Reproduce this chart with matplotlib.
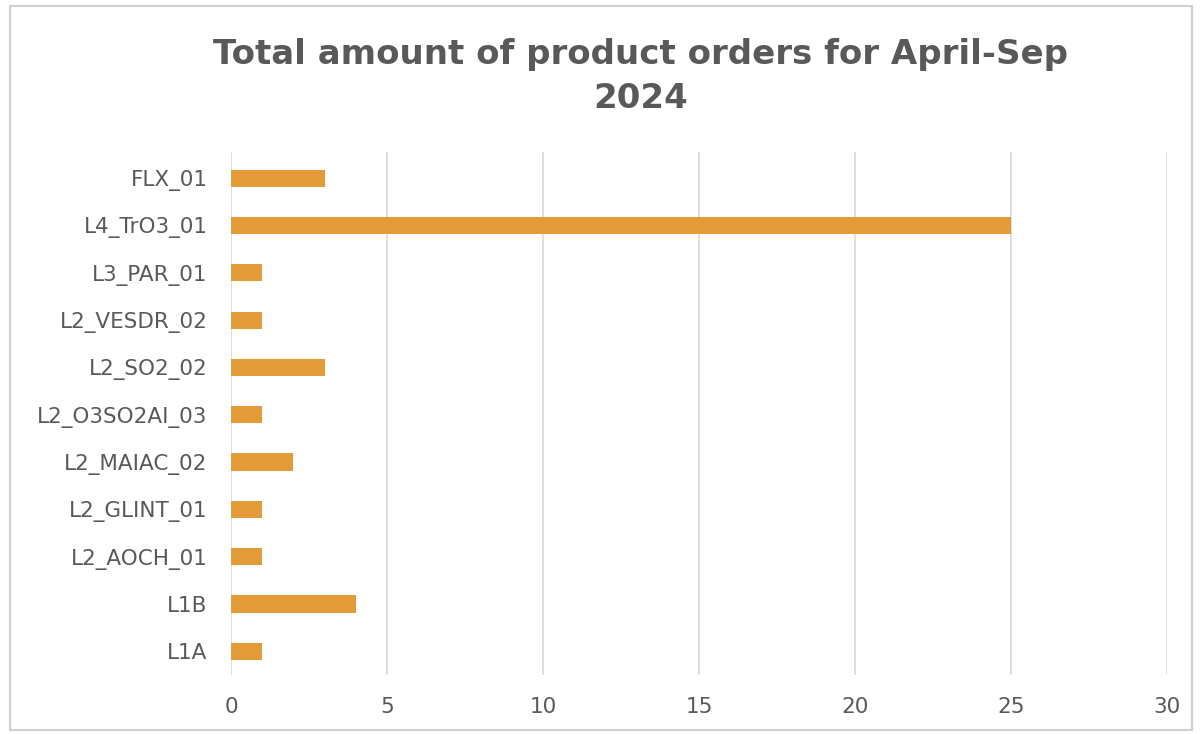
import matplotlib
matplotlib.use("Agg")
import matplotlib.pyplot as plt
from matplotlib.patches import Rectangle

# product codes, listed top to bottom as they appear on the chart
products = ['FLX_01', 'L4_TrO3_01', 'L3_PAR_01', 'L2_VESDR_02', 'L2_SO2_02',
            'L2_O3SO2AI_03', 'L2_MAIAC_02', 'L2_GLINT_01', 'L2_AOCH_01',
            'L1B', 'L1A']
orders = [3, 25, 1, 1, 3, 1, 2, 1, 1, 4, 1]
xticks = [0, 5, 10, 15, 20, 25, 30]

bar_color = '#E39B3A'
text_color = '#595959'
grid_color = '#D9D9D9'

plt.rcParams['font.family'] = ['DejaVu Sans']

fig = plt.figure(figsize=(12.01, 7.34), dpi=100)
ax = fig.add_axes([231 / 1201, 59 / 734, 936 / 1201, 523 / 734])

ypos = list(range(len(products)))
ax.barh(ypos, orders, height=0.36, color=bar_color, zorder=3)

ax.set_xlim(0, 30)
ax.set_ylim(len(products) - 0.5, -0.55)
ax.set_xticks(xticks)
ax.set_yticks(ypos)
ax.set_yticklabels(products)

ax.grid(axis='x', color=grid_color, linewidth=1.2, zorder=0)
for s in ax.spines.values():
    s.set_visible(False)
ax.tick_params(axis='both', length=0, colors=text_color, labelsize=15.5)
ax.tick_params(axis='y', pad=17)
ax.tick_params(axis='x', pad=16)

fig.text(0.533, 0.896, 'Total amount of product orders for April-Sep\n2024',
         ha='center', va='center', fontsize=24.5, fontweight='bold',
         color=text_color, linespacing=1.4)

# thin frame round the chart area
fig.patches.append(Rectangle((10 / 1201, 4 / 734), 1182 / 1201, 724 / 734,
                             transform=fig.transFigure, fill=False,
                             edgecolor='#D0D0D0', linewidth=1.5))

fig.savefig('out.png', dpi=100, facecolor='white')
